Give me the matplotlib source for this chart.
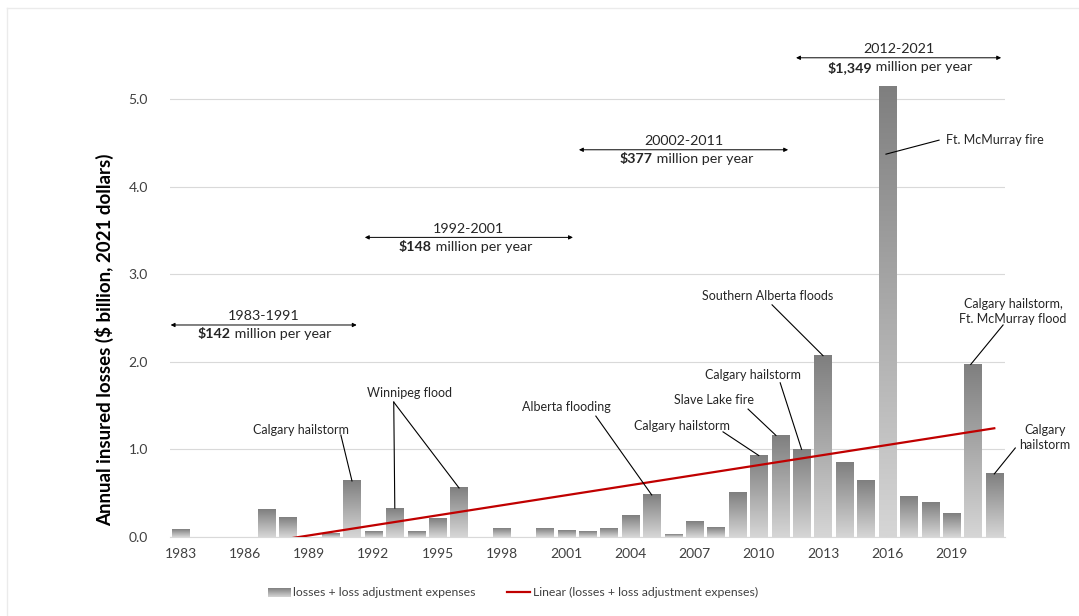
import matplotlib.pyplot as plt
import numpy as np
from matplotlib.lines import Line2D
from matplotlib.colors import LinearSegmentedColormap

# annual insured losses, $ billion (2021 dollars)
years = np.arange(1983, 2022)
losses = [0.09, 0, 0, 0, 0.31, 0.22, 0, 0.035, 0.64,
          0.06, 0.33, 0.06, 0.21, 0.56, 0, 0.10, 0, 0.095, 0.07,
          0.06, 0.095, 0.25, 0.48, 0.03, 0.175, 0.105, 0.51, 0.93, 1.16,
          1.00, 2.07, 0.85, 0.64, 5.14, 0.46, 0.39, 0.27, 1.97, 0.72]
tick_years = list(range(1983, 2020, 3))

# period averages: label, bold amount, arrow start/end, y level
period_labels = ['1983-1991', '1992-2001', '20002-2011', '2012-2021']
period_amounts = ['$142', '$148', '$377', '$1,349']
period_spans = [(1982.53, 1991.22), (1991.60, 2001.32), (2001.60, 2011.37), (2011.74, 2021.32)]
period_y = [2.42, 3.42, 4.42, 5.47]
period_split = [1985.34, 1994.73, 2005.06, 2015.29]

# event callouts: text, text position, line start, target year, target y (None = bar top)
events = [
    ('Calgary hailstorm', (1988.61, 1.22), 'center', (1990.48, 1.164), [(1991, None)]),
    ('Winnipeg flood', (1993.69, 1.64), 'center', (1992.95, 1.54), [(1993, None), (1996, None)]),
    ('Alberta flooding', (2000.99, 1.48), 'center', (2002.39, 1.38), [(2005, None)]),
    ('Calgary hailstorm', (2006.41, 1.267), 'center', (2008.33, 1.20), [(2010, None)]),
    ('Slave Lake fire', (2007.91, 1.564), 'center', (2009.50, 1.46), [(2010.8, 1.16)]),
    ('Calgary hailstorm', (2009.73, 1.85), 'center', (2011.0, 1.76), [(2012, None)]),
    ('Southern Alberta floods', (2010.43, 2.75), 'center', (2010.62, 2.65), [(2013, None)]),
    ('Ft. McMurray fire', (2018.74, 4.53), 'left', (2018.42, 4.53), [(2015.94, 4.37)]),
    ('Calgary hailstorm,\nFt. McMurray flood', (2021.88, 2.574), 'center', (2021.41, 2.42), [(2019.9, None)]),
    ('Calgary\nhailstorm', (2023.37, 1.14), 'center', (2021.98, 1.016), [(2021, None)]),
]

plt.rcParams['font.family'] = ['Lato', 'DejaVu Sans']
txt = '#262626'

fig = plt.figure(figsize=(10.79, 6.16), dpi=100)
ax = fig.add_axes([170 / 1079, 79 / 616, 835 / 1079, 490.6 / 616])

# bars with a vertical grey gradient, dark at the top
cmap = LinearSegmentedColormap.from_list('bar', ['#7f7f7f', '#d6d6d6'])
grad = np.linspace(0, 1, 256).reshape(-1, 1)
w = 0.8
for yr, v in zip(years, losses):
    if v <= 0:
        continue
    ax.imshow(grad, cmap=cmap, extent=[yr - w / 2, yr + w / 2, 0, v],
              aspect='auto', origin='upper', zorder=2, interpolation='bilinear')

# linear trend of the series
slope, icpt = np.polyfit(years, losses, 1)
ax.plot(years, slope * years + icpt, color='#c00000', lw=1.6, zorder=3)

ax.set_xlim(1982.5, 2021.5)
ax.set_ylim(0, 5.6)
ax.set_yticks(np.arange(0, 5.1, 1.0))
ax.set_yticklabels([f'{v:.1f}' for v in np.arange(0, 5.1, 1.0)])
ax.set_xticks(tick_years)
ax.tick_params(axis='both', length=0, labelsize=10, colors='#404040')
ax.tick_params(axis='y', pad=16)
ax.tick_params(axis='x', pad=8)
for s in ['top', 'right', 'left']:
    ax.spines[s].set_visible(False)
ax.spines['bottom'].set_color('#d9d9d9')
ax.grid(axis='y', color='#d9d9d9', lw=0.8, zorder=0)
ax.set_axisbelow(True)

# period average arrows
for lab, amt, (x0, x1), yv, xs in zip(period_labels, period_amounts, period_spans,
                                      period_y, period_split):
    ax.annotate('', xy=(x1, yv), xytext=(x0, yv),
                arrowprops=dict(arrowstyle='<|-|>', lw=0.7, color='black',
                                mutation_scale=6, shrinkA=0, shrinkB=0),
                annotation_clip=False)
    ax.text((x0 + x1) / 2, yv + 0.03, lab, ha='center', va='bottom',
            fontsize=10.3, color=txt, clip_on=False)
    ax.text(xs, yv - 0.04, amt.replace('$', r'\$'), ha='right', va='top',
            fontsize=10.3, fontweight='bold', color=txt, clip_on=False)
    ax.text(xs, yv - 0.04, ' million per year', ha='left', va='top',
            fontsize=10.3, color=txt, clip_on=False)

# event callouts
vals = dict(zip(years, losses))
for label, (tx, ty), ha, (sx, sy), targets in events:
    ax.text(tx, ty, label, ha=ha, va='center', fontsize=9, color=txt,
            linespacing=1.3, clip_on=False)
    for yr, yv in targets:
        if yv is None:
            yv = vals[int(round(yr))]
        ax.plot([sx, yr], [sy, yv], color='black', lw=0.8, zorder=4, clip_on=False)

fig.text(105 / 1079, 1 - 340 / 616, 'Annual insured losses ($ billion, 2021 dollars)',
         rotation=90, ha='center', va='center', fontsize=13.5, fontweight='bold', color='black')

# legend
lax = fig.add_axes([268 / 1079, 1 - 597 / 616, 23 / 1079, 9 / 616])
lax.imshow(grad, cmap=cmap, aspect='auto', interpolation='bilinear')
lax.axis('off')
fig.text(293 / 1079, 1 - 592 / 616, 'losses + loss adjustment expenses',
         ha='left', va='center', fontsize=8.8, color='#404040')
fig.add_artist(Line2D([507 / 1079, 530 / 1079], [1 - 592 / 616] * 2,
                      color='#c00000', lw=1.6))
fig.text(533 / 1079, 1 - 592 / 616, 'Linear (losses + loss adjustment expenses)',
         ha='left', va='center', fontsize=8.8, color='#404040')

# faint chart border
fig.add_artist(Line2D([7 / 1079, 1], [1 - 8 / 616] * 2, color='#ebebeb', lw=1))
fig.add_artist(Line2D([7 / 1079] * 2, [0, 1 - 8 / 616], color='#ebebeb', lw=1))

fig.savefig('out.png', dpi=100)
